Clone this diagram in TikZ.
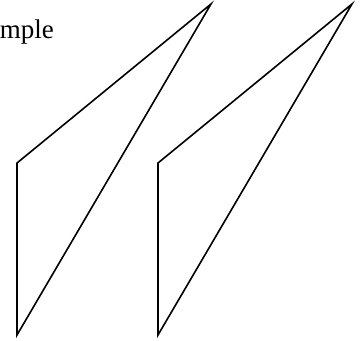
\documentclass[tikz,border=0pt]{standalone}
\usepackage{fontspec}
\setmainfont{Liberation Serif}
\begin{document}
\begin{tikzpicture}[x=1pt, y=-1pt, line join=miter]
		\useasboundingbox (0,0) rectangle (360,341);
		\node[anchor=base east, inner sep=0pt, font=\fontsize{27}{31}\selectfont] (title) at (54,38) {Example};
		\foreach \dx/\n in {0/left, 141/right} {
				\coordinate (\n-a) at (17+\dx,163);
				\coordinate (\n-b) at (211+\dx,4);
				\coordinate (\n-c) at (17+\dx,335);
				\draw[line width=1.6pt] (\n-a) -- (\n-b) -- (\n-c) -- cycle;
			}
	\end{tikzpicture}
\end{document}
